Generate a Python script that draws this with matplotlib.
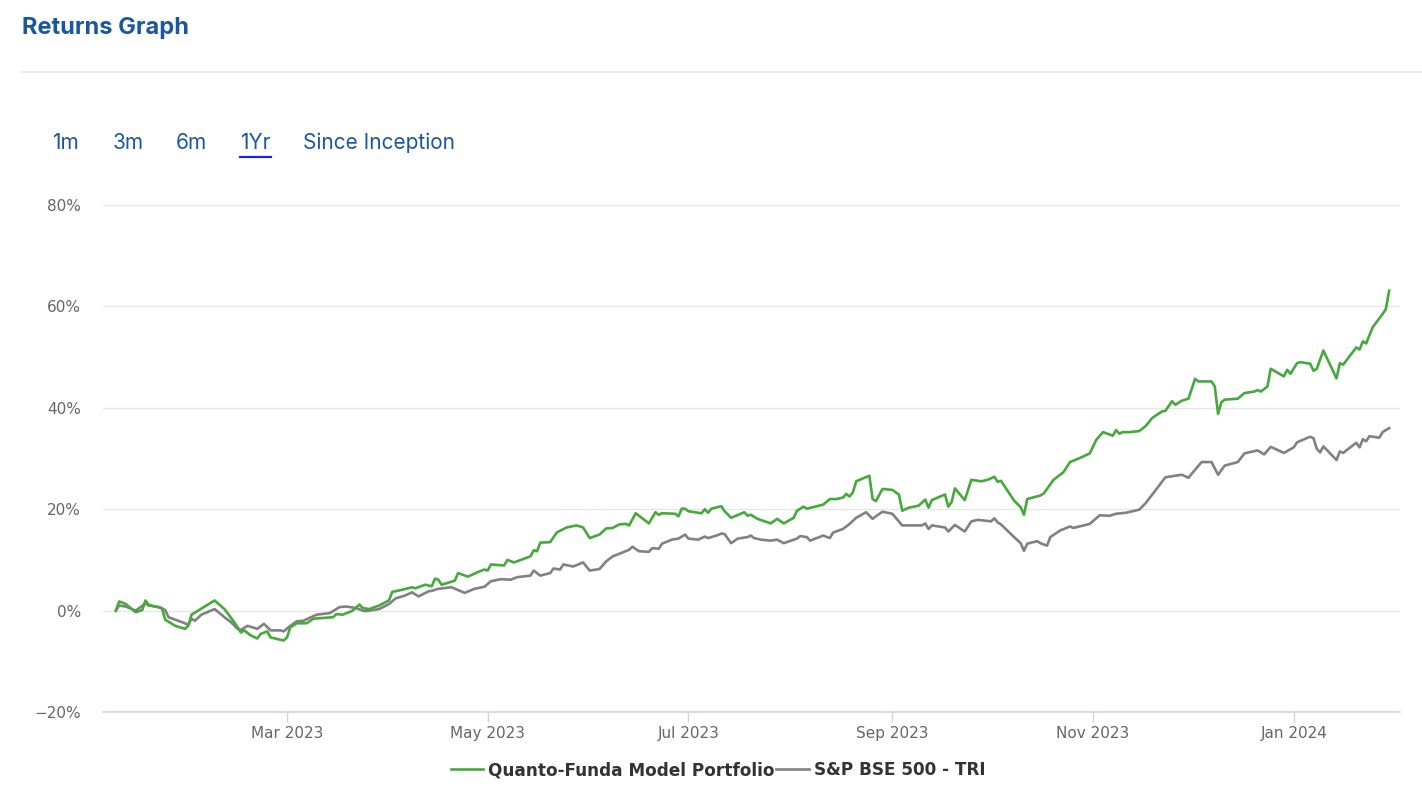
import matplotlib
matplotlib.use("Agg")
import matplotlib.pyplot as plt
import matplotlib.dates as mdates
from matplotlib.ticker import FuncFormatter
import pandas as pd

# Quanto-Funda Model Portfolio (cumulative return, %)
qf_dates = [
    "2023-01-08", "2023-01-09", "2023-01-11", "2023-01-14", "2023-01-16", "2023-01-17",
    "2023-01-18", "2023-01-22", "2023-01-23", "2023-01-26", "2023-01-29", "2023-01-30",
    "2023-01-31", "2023-02-02", "2023-02-07", "2023-02-10", "2023-02-13", "2023-02-15",
    "2023-02-16", "2023-02-18", "2023-02-20", "2023-02-21", "2023-02-23", "2023-02-24",
    "2023-02-26", "2023-02-28", "2023-03-01", "2023-03-02", "2023-03-04", "2023-03-07",
    "2023-03-09", "2023-03-15", "2023-03-16", "2023-03-18", "2023-03-21", "2023-03-23",
    "2023-03-24", "2023-03-26", "2023-03-29", "2023-04-01", "2023-04-02", "2023-04-05",
    "2023-04-08", "2023-04-09", "2023-04-12", "2023-04-14", "2023-04-15", "2023-04-16",
    "2023-04-17", "2023-04-21", "2023-04-22", "2023-04-25", "2023-04-28", "2023-04-30",
    "2023-05-01", "2023-05-02", "2023-05-06", "2023-05-07", "2023-05-09", "2023-05-14",
    "2023-05-15", "2023-05-16", "2023-05-17", "2023-05-20", "2023-05-22", "2023-05-25",
    "2023-05-28", "2023-05-30", "2023-06-01", "2023-06-04", "2023-06-06", "2023-06-08",
    "2023-06-10", "2023-06-12", "2023-06-13", "2023-06-15", "2023-06-19", "2023-06-21",
    "2023-06-22", "2023-06-23", "2023-06-27", "2023-06-28", "2023-06-29", "2023-06-30",
    "2023-07-01", "2023-07-05", "2023-07-06", "2023-07-07", "2023-07-08", "2023-07-11",
    "2023-07-12", "2023-07-14", "2023-07-18", "2023-07-19", "2023-07-20", "2023-07-22",
    "2023-07-26", "2023-07-28", "2023-07-30", "2023-08-02", "2023-08-03", "2023-08-05",
    "2023-08-06", "2023-08-11", "2023-08-13", "2023-08-15", "2023-08-17", "2023-08-18",
    "2023-08-19", "2023-08-20", "2023-08-21", "2023-08-25", "2023-08-26", "2023-08-27",
    "2023-08-29", "2023-09-01", "2023-09-03", "2023-09-04", "2023-09-06", "2023-09-09",
    "2023-09-11", "2023-09-12", "2023-09-13", "2023-09-17", "2023-09-18", "2023-09-19",
    "2023-09-20", "2023-09-23", "2023-09-25", "2023-09-28", "2023-09-30", "2023-10-02",
    "2023-10-03", "2023-10-04", "2023-10-08", "2023-10-10", "2023-10-11", "2023-10-12",
    "2023-10-16", "2023-10-17", "2023-10-20", "2023-10-23", "2023-10-25", "2023-10-28",
    "2023-10-31", "2023-11-02", "2023-11-04", "2023-11-07", "2023-11-08", "2023-11-09",
    "2023-11-10", "2023-11-12", "2023-11-15", "2023-11-17", "2023-11-19", "2023-11-22",
    "2023-11-23", "2023-11-25", "2023-11-26", "2023-11-28", "2023-11-30", "2023-12-02",
    "2023-12-03", "2023-12-07", "2023-12-08", "2023-12-09", "2023-12-10", "2023-12-11",
    "2023-12-15", "2023-12-17", "2023-12-20", "2023-12-21", "2023-12-22", "2023-12-24",
    "2023-12-25", "2023-12-29", "2023-12-30", "2023-12-31", "2024-01-02", "2024-01-03",
    "2024-01-06", "2024-01-07", "2024-01-08", "2024-01-10", "2024-01-14", "2024-01-15",
    "2024-01-16", "2024-01-20", "2024-01-21", "2024-01-22", "2024-01-23", "2024-01-25",
    "2024-01-28", "2024-01-29", "2024-01-30",
]
qf_values = [
    0.0, 1.8, 1.3, -0.3, 0.1, 2.0,
    1.1, 0.5, -1.8, -3.0, -3.6, -3.0,
    -0.8, 0.0, 2.0, 0.3, -2.3, -4.3,
    -3.9, -4.9, -5.5, -4.6, -4.1, -5.3,
    -5.6, -5.9, -5.3, -3.3, -2.5, -2.5,
    -1.6, -1.3, -0.7, -0.8, 0.0, 1.2,
    0.5, 0.3, 1.0, 2.0, 3.7, 4.1,
    4.6, 4.4, 5.1, 4.8, 6.3, 6.1,
    5.1, 5.9, 7.4, 6.7, 7.6, 8.1,
    7.9, 9.1, 8.9, 10.0, 9.5, 10.7,
    11.9, 11.7, 13.4, 13.5, 15.4, 16.4,
    16.8, 16.4, 14.3, 15.0, 16.2, 16.3,
    17.0, 17.1, 16.8, 19.2, 17.2, 19.4,
    18.9, 19.2, 19.1, 18.6, 20.1, 20.1,
    19.6, 19.2, 20.0, 19.3, 20.1, 20.6,
    19.6, 18.3, 19.4, 18.7, 18.9, 18.1,
    17.2, 18.1, 17.2, 18.3, 19.7, 20.5,
    20.1, 20.9, 22.0, 22.0, 22.3, 23.0,
    22.5, 23.3, 25.5, 26.6, 22.0, 21.6,
    24.0, 23.8, 22.9, 19.7, 20.3, 20.7,
    21.9, 20.3, 21.8, 22.9, 20.5, 21.4,
    24.1, 21.8, 25.8, 25.5, 25.8, 26.4,
    25.4, 25.6, 21.7, 20.4, 18.9, 22.0,
    22.7, 23.1, 25.8, 27.3, 29.3, 30.1,
    31.0, 33.7, 35.2, 34.5, 35.6, 34.9,
    35.2, 35.2, 35.4, 36.4, 38.0, 39.3,
    39.4, 41.3, 40.6, 41.4, 41.8, 45.7,
    45.2, 45.2, 44.2, 38.8, 41.1, 41.6,
    41.8, 42.9, 43.2, 43.5, 43.2, 44.2,
    47.7, 46.2, 47.5, 46.7, 48.8, 49.0,
    48.7, 47.3, 47.7, 51.3, 45.8, 48.8,
    48.5, 51.9, 51.5, 53.1, 52.7, 55.9,
    58.5, 59.5, 63.1,
]

# S&P BSE 500 - TRI (cumulative return, %)
bse_dates = [
    "2023-01-08", "2023-01-09", "2023-01-11", "2023-01-14", "2023-01-17", "2023-01-18",
    "2023-01-21", "2023-01-23", "2023-01-24", "2023-01-29", "2023-01-30", "2023-01-31",
    "2023-02-01", "2023-02-03", "2023-02-07", "2023-02-10", "2023-02-12", "2023-02-14",
    "2023-02-15", "2023-02-17", "2023-02-20", "2023-02-22", "2023-02-24", "2023-02-27",
    "2023-02-28", "2023-03-02", "2023-03-04", "2023-03-06", "2023-03-10", "2023-03-14",
    "2023-03-17", "2023-03-19", "2023-03-22", "2023-03-24", "2023-03-25", "2023-03-29",
    "2023-04-01", "2023-04-03", "2023-04-06", "2023-04-08", "2023-04-10", "2023-04-13",
    "2023-04-14", "2023-04-16", "2023-04-20", "2023-04-24", "2023-04-27", "2023-04-30",
    "2023-05-02", "2023-05-05", "2023-05-08", "2023-05-10", "2023-05-14", "2023-05-15",
    "2023-05-17", "2023-05-20", "2023-05-21", "2023-05-23", "2023-05-24", "2023-05-27",
    "2023-05-30", "2023-06-01", "2023-06-04", "2023-06-06", "2023-06-08", "2023-06-10",
    "2023-06-13", "2023-06-14", "2023-06-16", "2023-06-19", "2023-06-20", "2023-06-22",
    "2023-06-23", "2023-06-26", "2023-06-28", "2023-06-30", "2023-07-01", "2023-07-04",
    "2023-07-06", "2023-07-07", "2023-07-10", "2023-07-11", "2023-07-12", "2023-07-14",
    "2023-07-16", "2023-07-19", "2023-07-20", "2023-07-21", "2023-07-23", "2023-07-26",
    "2023-07-28", "2023-07-30", "2023-08-03", "2023-08-04", "2023-08-06", "2023-08-07",
    "2023-08-11", "2023-08-13", "2023-08-14", "2023-08-17", "2023-08-19", "2023-08-21",
    "2023-08-24", "2023-08-26", "2023-08-27", "2023-08-29", "2023-09-01", "2023-09-04",
    "2023-09-10", "2023-09-11", "2023-09-12", "2023-09-13", "2023-09-17", "2023-09-18",
    "2023-09-20", "2023-09-23", "2023-09-25", "2023-09-27", "2023-10-01", "2023-10-02",
    "2023-10-03", "2023-10-04", "2023-10-08", "2023-10-10", "2023-10-11", "2023-10-12",
    "2023-10-15", "2023-10-16", "2023-10-18", "2023-10-19", "2023-10-22", "2023-10-25",
    "2023-10-26", "2023-10-31", "2023-11-03", "2023-11-06", "2023-11-08", "2023-11-11",
    "2023-11-15", "2023-11-17", "2023-11-23", "2023-11-25", "2023-11-28", "2023-11-30",
    "2023-12-01", "2023-12-04", "2023-12-07", "2023-12-09", "2023-12-11", "2023-12-15",
    "2023-12-17", "2023-12-21", "2023-12-23", "2023-12-25", "2023-12-29", "2024-01-01",
    "2024-01-02", "2024-01-06", "2024-01-07", "2024-01-08", "2024-01-09", "2024-01-10",
    "2024-01-14", "2024-01-15", "2024-01-16", "2024-01-20", "2024-01-21", "2024-01-22",
    "2024-01-23", "2024-01-24", "2024-01-27", "2024-01-28", "2024-01-30",
]
bse_values = [
    0.0, 1.0, 0.8, 0.0, 1.4, 1.0,
    0.7, 0.1, -1.3, -2.5, -2.8, -1.6,
    -2.0, -0.8, 0.3, -1.3, -2.3, -3.6,
    -3.8, -3.0, -3.6, -2.6, -3.9, -3.9,
    -4.1, -3.0, -2.1, -2.0, -0.8, -0.5,
    0.7, 0.8, 0.5, 0.0, -0.1, 0.3,
    1.3, 2.4, 3.0, 3.6, 2.8, 3.8,
    3.9, 4.3, 4.6, 3.5, 4.3, 4.7,
    5.8, 6.2, 6.1, 6.6, 6.9, 7.9,
    6.9, 7.4, 8.3, 8.1, 9.1, 8.7,
    9.5, 7.9, 8.2, 9.7, 10.7, 11.2,
    12.0, 12.6, 11.7, 11.6, 12.3, 12.2,
    13.2, 14.0, 14.2, 15.0, 14.2, 14.0,
    14.6, 14.3, 14.9, 15.2, 15.1, 13.3,
    14.2, 14.5, 14.8, 14.3, 14.0, 13.8,
    14.0, 13.3, 14.2, 14.7, 14.5, 13.8,
    14.8, 14.3, 15.4, 16.1, 17.1, 18.3,
    19.4, 18.1, 18.6, 19.5, 19.1, 16.8,
    16.8, 17.2, 16.1, 16.8, 16.4, 15.6,
    16.9, 15.6, 17.6, 17.9, 17.6, 18.2,
    17.4, 17.0, 14.5, 13.3, 11.8, 13.2,
    13.7, 13.3, 12.8, 14.5, 15.8, 16.6,
    16.3, 17.1, 18.8, 18.7, 19.1, 19.3,
    19.9, 21.2, 26.3, 26.5, 26.8, 26.2,
    27.0, 29.3, 29.3, 26.8, 28.6, 29.3,
    31.0, 31.6, 30.8, 32.3, 31.1, 32.2,
    33.2, 34.3, 34.0, 31.9, 31.2, 32.4,
    29.7, 31.4, 31.1, 33.1, 32.2, 33.8,
    33.4, 34.4, 34.1, 35.2, 36.0,
]

series_names = ["Quanto-Funda Model Portfolio", "S&P BSE 500 - TRI"]
tab_labels = ["1m", "3m", "6m", "1Yr", "Since Inception"]
active_tab = "1Yr"

blue = "#1b57a0"
green = "#46a93b"
grey = "#818181"

fig = plt.figure(figsize=(14.22, 8.02), dpi=100)
ax = fig.add_axes([103 / 1422, 1 - 712 / 802, 1297 / 1422, 507 / 802])

qf_x = pd.to_datetime(qf_dates)
bse_x = pd.to_datetime(bse_dates)
ax.plot(qf_x, qf_values, color=green, lw=1.9, label=series_names[0], zorder=3)
ax.plot(bse_x, bse_values, color=grey, lw=1.9, label=series_names[1], zorder=2)

ax.set_xlim(pd.Timestamp("2023-01-04 02:00"), pd.Timestamp("2024-02-02 07:00"))
ax.set_ylim(-20, 80)

# y axis: gridlines only, percentage labels
ax.set_yticks([-20, 0, 20, 40, 60, 80])
ax.yaxis.set_major_formatter(FuncFormatter(lambda v, p: f"{v:.0f}%".replace("-", "\u2212")))
ax.grid(axis="y", color="#e6e6e6", lw=1)
ax.tick_params(axis="y", length=0, pad=16, labelsize=11, labelcolor="#666666")

# x axis: month ticks every two months
ax.xaxis.set_major_locator(mdates.MonthLocator(bymonth=[1, 3, 5, 7, 9, 11]))
ax.xaxis.set_major_formatter(mdates.DateFormatter("%b %Y"))
ax.tick_params(axis="x", length=7, width=1, color="#ccd6eb", pad=3,
               labelsize=11, labelcolor="#666666")

for side in ["top", "right", "left"]:
    ax.spines[side].set_visible(False)
ax.spines["bottom"].set_color("#ccd6eb")
ax.spines["bottom"].set_linewidth(1.2)
ax.set_axisbelow(True)

leg = ax.legend(loc="center", bbox_to_anchor=(718 / 1422, 1 - 770 / 802),
                bbox_transform=fig.transFigure, ncol=2, frameon=False,
                handlelength=1.9, handletextpad=0.3, columnspacing=0.1,
                prop={"weight": "bold", "size": 12.2})
for t in leg.get_texts():
    t.set_color("#333333")

# header: title, separator, range tabs
fig.text(22 / 1422, 1 - 28 / 802, "Returns Graph", fontsize=17, fontweight="bold",
         family="Inter", color=blue, va="center", ha="left")
fig.add_artist(plt.Line2D([22 / 1422, 1.0], [1 - 72 / 802] * 2, color="#e8e8e8", lw=1.2))

tab_x = [52, 113, 176, 240, 303]
for lbl, tx in zip(tab_labels, tab_x):
    t = fig.text(tx / 1422, 1 - 143 / 802, lbl, fontsize=15, family="Inter",
                 color=blue, va="center", ha="left")
    if lbl == active_tab:
        fig.canvas.draw()
        bb = t.get_window_extent()
        y_u = 1 - 157 / 802
        fig.add_artist(plt.Line2D([bb.x0 / 1422, bb.x1 / 1422], [y_u, y_u],
                                  color="#2323e6", lw=1.6))

fig.savefig("out.png", dpi=100, facecolor="white")
